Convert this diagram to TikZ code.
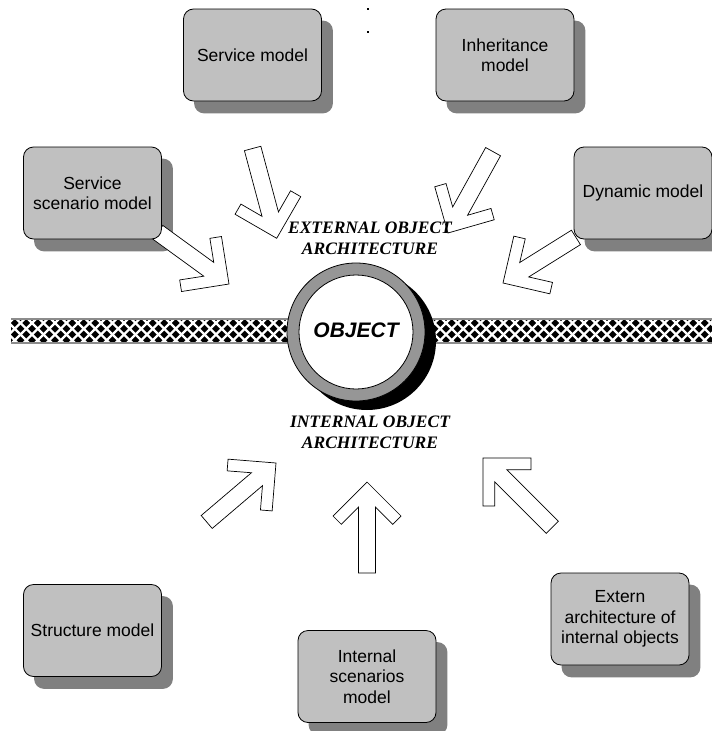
\documentclass[tikz,border=0pt]{standalone}
\usepackage{fontspec}
\setmainfont{Liberation Serif}
\setsansfont{Liberation Sans}

\definecolor{boxfill}{RGB}{192,192,192}
\definecolor{boxshade}{RGB}{128,128,128}
\definecolor{ringgray}{RGB}{150,150,150}
\definecolor{bandedge}{RGB}{140,140,140}

\pgfdeclarelayer{shade}
\pgfdeclarelayer{arrowlayer}
\pgfsetlayers{shade,arrowlayer,main}

\tikzset{
  model/.style={draw=black, fill=boxfill, rounded corners=10pt,
    minimum width=138pt, minimum height=92pt, align=center, inner sep=2pt,
    line width=0.8pt, font=\sffamily\fontsize{17.5}{20.5}\selectfont},
  boxshadow/.style={fill=boxshade, rounded corners=10pt},
  arrowbody/.style={draw=black, fill=white, line width=0.7pt, line join=miter},
  archlabel/.style={align=center, font=\bfseries\itshape\fontsize{17.5}{21}\selectfont},
  objlabel/.style={font=\sffamily\bfseries\itshape\fontsize{21}{24}\selectfont},
  hatchline/.style={white, line width=2.4pt},
  pics/blockarrow/.style={code={
    \draw[arrowbody] (0,0) -- (-34,34) -- (-25.7,42.3) -- (-8.5,25) -- (-8.5,#1)
      -- (8.5,#1) -- (8.5,25) -- (25.7,42.3) -- (34,34) -- cycle;
  }}
}

% rounded shadow behind a model box, offset down and to the right
\newcommand\shadebox[1]{%
  \begin{pgfonlayer}{shade}
    \path[boxshadow] ([shift={(11,12)}]#1.north west) rectangle ([shift={(11,12)}]#1.south east);
  \end{pgfonlayer}}

\begin{document}
\begin{tikzpicture}[x=1pt,y=-1pt]
\useasboundingbox (0,0) rectangle (712,731);

% model boxes
\node[model] (svc) at (252.5,55)  {Service model};
\node[model] (inh) at (505,55)    {Inheritance\\model};
\node[model] (scn) at (92.5,193)  {Service\\scenario model};
\node[model] (dyn) at (643,193)   {Dynamic model};
\node[model] (str) at (92.5,630.5){Structure model};
\node[model] (isc) at (367,676.5) {Internal\\scenarios\\model};
\node[model] (ext) at (620,619)   {Extern\\architecture of\\internal objects};
\foreach \b in {svc,inh,scn,dyn,str,isc,ext} {\shadebox{\b}}

% small marks at the top
\fill (367,8.4) rectangle (369,9.6);
\fill (367,31.4) rectangle (369,32.6);

% block arrows pointing at the object
\begin{pgfonlayer}{arrowlayer}
  \pic[rotate=-126]  at (229,284)   {blockarrow=88};
  \pic[rotate=-165]  at (276.7,238.3) {blockarrow=93};
  \pic[rotate=151]   at (448,233)   {blockarrow=93};
  \pic[rotate=122]   at (503,283)   {blockarrow=86};
  \pic[rotate=-49.6] at (276,463)   {blockarrow=91};
  \pic[rotate=0]     at (367,482)   {blockarrow=91};
  \pic[rotate=45]    at (483,458)   {blockarrow=98};
\end{pgfonlayer}

% hatched boundary band
\begin{scope}
  \clip (11,319) rectangle (712,343);
  \fill[black] (11,319) rectangle (712,343);
  \foreach \c in {-60,-48.5,...,790} {
    \draw[hatchline] (\c,300) -- ++(-60,60);
    \draw[hatchline] (\c,300) -- ++(60,60);
  }
\end{scope}
\draw[bandedge, line width=1.2pt] (11,319) -- (712,319);
\draw[bandedge, line width=1.2pt] (11,343) -- (712,343);

% the object: ring with a dark shadow
\fill[black] (367,341) circle[radius=69pt];
\filldraw[fill=ringgray, draw=black, line width=0.8pt] (356,332) circle[radius=69pt];
\filldraw[fill=white, draw=black, line width=0.8pt] (356,332) circle[radius=57pt];
\node[objlabel] (obj) at (356,330) {OBJECT};

% architecture labels
\node[archlabel] (extlabel) at (370,238.5) {EXTERNAL OBJECT\\ARCHITECTURE};
\node[archlabel] (intlabel) at (370,432) {INTERNAL OBJECT\\ARCHITECTURE};
\end{tikzpicture}
\end{document}
